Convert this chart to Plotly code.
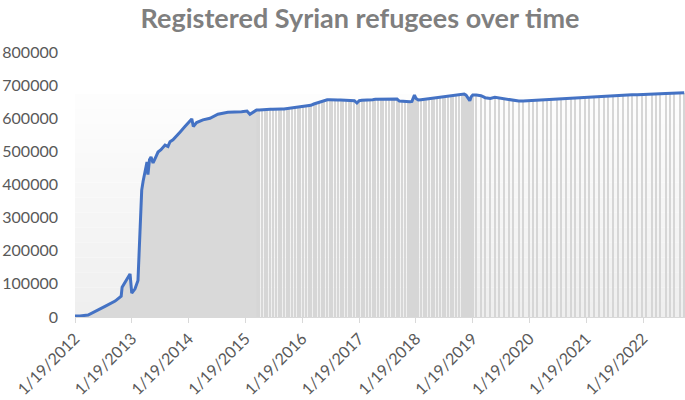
import plotly.graph_objects as go
import pandas as pd

# ---- data ----
dates = [
    "2012-01-19", "2012-02-20", "2012-04-12", "2012-05-27", "2012-07-30", "2012-10-03",
    "2012-11-04", "2012-11-11", "2012-11-17", "2012-12-06", "2013-01-07", "2013-01-18",
    "2013-02-08", "2013-02-27", "2013-03-07", "2013-03-12", "2013-03-18", "2013-03-23",
    "2013-04-01", "2013-04-13", "2013-04-26", "2013-05-02", "2013-05-12", "2013-05-22",
    "2013-06-04", "2013-06-17", "2013-07-06", "2013-07-25", "2013-08-20", "2013-09-08",
    "2013-09-21", "2013-10-10", "2013-11-03", "2013-11-24", "2013-12-26", "2014-02-08",
    "2014-02-18", "2014-03-11", "2014-04-21", "2014-06-05", "2014-07-26", "2014-09-28",
    "2014-12-25", "2015-01-29", "2015-02-17", "2015-04-01",
    # sparse period
    "2015-04-19", "2015-05-06", "2015-05-24", "2015-06-09", "2015-06-28", "2015-07-14",
    "2015-08-02", "2015-08-20", "2015-09-06", "2015-09-24", "2015-10-11", "2015-10-29",
    "2015-11-15", "2015-12-02", "2015-12-22", "2016-01-07", "2016-01-26", "2016-02-11",
    "2016-02-29", "2016-03-15", "2016-04-03", "2016-04-20", "2016-05-06", "2016-05-25",
    "2016-06-10", "2016-06-28", "2016-07-14", "2016-08-01", "2016-08-18", "2016-09-05",
    "2016-09-22", "2016-10-09", "2016-10-27", "2016-11-13", "2016-11-30", "2016-12-20",
    "2017-01-05", "2017-01-20", "2017-02-06", "2017-02-23", "2017-03-12", "2017-03-30",
    "2017-04-16", "2017-05-03", "2017-05-21", "2017-06-07", "2017-06-25", "2017-07-12",
    "2017-07-30", "2017-08-16", "2017-09-03", "2017-09-20", "2017-10-05", "2017-10-23",
    "2017-11-09", "2017-11-27", "2017-12-12", "2017-12-25", "2018-01-10", "2018-01-20",
    "2018-02-04", "2018-02-21", "2018-03-10", "2018-03-28", "2018-04-14", "2018-05-02",
    "2018-05-19", "2018-06-06", "2018-06-23", "2018-07-10", "2018-07-28", "2018-08-14",
    "2018-09-01", "2018-09-18", "2018-10-05", "2018-10-23", "2018-11-09", "2018-11-26",
    "2018-12-08", "2018-12-20", "2019-01-01", "2019-01-10", "2019-01-20", "2019-02-12",
    "2019-03-14", "2019-04-10", "2019-05-13", "2019-06-11", "2019-07-09", "2019-08-12",
    "2019-09-10", "2019-10-08", "2019-11-12", "2019-12-10", "2020-01-14", "2020-02-11",
    "2020-03-10", "2020-04-14", "2020-05-12", "2020-06-09", "2020-07-14", "2020-08-11",
    "2020-09-08", "2020-10-13", "2020-11-10", "2020-12-08", "2021-01-12", "2021-02-09",
    "2021-03-09", "2021-04-13", "2021-05-11", "2021-06-08", "2021-07-13", "2021-08-10",
    "2021-09-14", "2021-10-12", "2021-11-09", "2021-12-14", "2022-01-11", "2022-02-08",
    "2022-03-15", "2022-04-12", "2022-05-10", "2022-06-14", "2022-07-12", "2022-08-09",
    "2022-09-13", "2022-10-11",
]
refugees = [
    3000, 3000, 6000, 16000, 32000, 48000,
    60000, 63000, 90000, 105000, 130000, 72000,
    85000, 110000, 200000, 290000, 320000, 383000,
    410000, 440000, 468000, 430000, 475000, 483000,
    465000, 478000, 498000, 505000, 519000, 515000,
    529000, 535000, 549000, 558000, 575000, 598000,
    575000, 587000, 595000, 600000, 612000, 618000,
    620000, 622000, 612000, 625000,
    625000, 626000, 626000, 627000, 627000, 627000,
    628000, 628000, 628000, 628000, 629000, 629000,
    630000, 631000, 632000, 633000, 634000, 635000,
    637000, 639000, 643000, 646000, 648000, 651000,
    654000, 656000, 656000, 655000, 655000, 655000,
    655000, 655000, 655000, 654000, 654000, 653000,
    646000, 653000, 654000, 654000, 655000, 656000,
    656000, 657000, 657000, 658000, 658000, 658000,
    658000, 658000, 658000, 658000, 652000, 651000,
    650000, 650000, 650000, 651000, 670000, 660000,
    655000, 656000, 657000, 658000, 659000, 661000,
    662000, 664000, 665000, 666000, 667000, 668000,
    669000, 670000, 670000, 671000, 672000, 673000,
    670000, 660000, 653000, 665000, 670000, 670000,
    668000, 662000, 660000, 663000, 661000, 658000,
    656000, 654000, 652000, 652000, 653000, 654000,
    654000, 655000, 656000, 657000, 657000, 658000,
    658000, 659000, 660000, 662000, 663000, 664000,
    665000, 666000, 667000, 668000, 668000, 669000,
    670000, 670000, 671000, 671000, 672000, 672000,
    673000, 673000, 674000, 675000, 675000, 676000,
    676000, 677000,
]
year_ticks = ["2012-01-19", "2013-01-19", "2014-01-19", "2015-01-19", "2016-01-19",
              "2017-01-19", "2018-01-19", "2019-01-19", "2020-01-19", "2021-01-19",
              "2022-01-19"]
tick_labels = ["1/19/2012", "1/19/2013", "1/19/2014", "1/19/2015", "1/19/2016",
               "1/19/2017", "1/19/2018", "1/19/2019", "1/19/2020", "1/19/2021",
               "1/19/2022"]
y_ticks = [0, 100000, 200000, 300000, 400000, 500000, 600000, 700000, 800000]
dense_until = "2015-04-01"

df = pd.DataFrame({"date": pd.to_datetime(dates), "value": refugees})
dense = df[df["date"] <= pd.Timestamp(dense_until)]
sparse = df[df["date"] >= pd.Timestamp(dense_until)]

FONT = "Lato"
W, H = 685, 400

fig = go.Figure()

# solid gray area for the densely sampled period
fig.add_trace(go.Scatter(
    x=dense["date"], y=dense["value"], mode="lines", line=dict(width=0),
    fill="tozeroy", fillcolor="#d9d9d9", hoverinfo="skip", showlegend=False))

# thin drop bars for the sparsely sampled period
fig.add_trace(go.Bar(
    x=sparse["date"], y=sparse["value"], width=7 * 86400000,
    marker=dict(color="#d6d6d6", line=dict(width=0)), hoverinfo="skip",
    showlegend=False))

# the line
fig.add_trace(go.Scatter(
    x=df["date"], y=df["value"], mode="lines",
    line=dict(color="#4472c4", width=3), showlegend=False))

# soft vertical gradient in plot background
n = 16
top = 720000
for i in range(n):
    g = int(239 + (255 - 239) * i / (n - 1))
    fig.add_shape(type="rect", xref="paper", yref="y", x0=0, x1=1,
                  y0=top * i / n, y1=top * (i + 1) / n,
                  fillcolor=f"rgb({g},{g},{g})", line=dict(width=0), layer="below")

fig.update_layout(
    width=W, height=H,
    margin=dict(l=75, r=0, t=52, b=83, autoexpand=False),
    paper_bgcolor="white", plot_bgcolor="white",
    bargap=0,
    title=dict(text="<b>Registered Syrian refugees over time</b>",
               x=360 / W, xanchor="center", y=1 - 19 / H,
               yanchor="middle",
               font=dict(family=FONT, size=27, color="#7f7f7f")),
    font=dict(family=FONT, color="#595959"),
)
fig.update_xaxes(
    type="date", range=["2012-01-19", "2022-10-16"],
    tickvals=year_ticks, ticktext=tick_labels, tickangle=-45,
    tickfont=dict(family=FONT, size=16, color="#595959"),
    showgrid=False, zeroline=False, automargin=False,
    showline=True, linecolor="#d9d9d9", linewidth=1,
    ticks="outside", ticklen=5, tickcolor="#d9d9d9")
fig.update_yaxes(
    range=[0, 800000], tickvals=y_ticks, ticktext=[str(v) for v in y_ticks],
    tickfont=dict(family=FONT, size=16, color="#595959"),
    showgrid=False, zeroline=False, showline=False, automargin=False,
    ticklabelstandoff=16)

fig.write_html(
    "out.html",
    config={"displayModeBar": False},
    post_script="document.body.style.margin='0';document.body.style.overflow='hidden';")
